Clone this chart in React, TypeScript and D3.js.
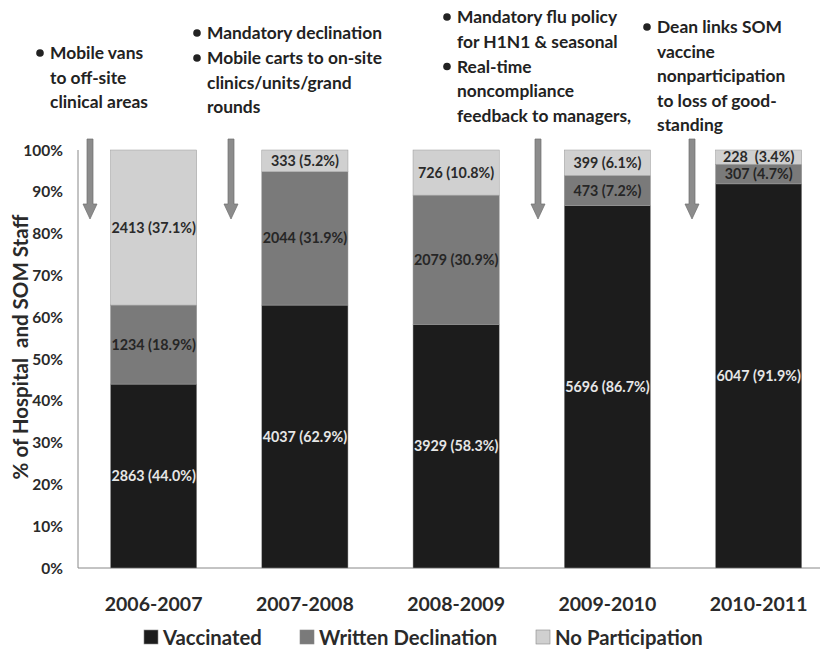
import React from "react";
import * as d3 from "d3";

const categories = ["2006-2007", "2007-2008", "2008-2009", "2009-2010", "2010-2011"];
const seriesNames = ["Vaccinated", "Written Declination", "No Participation"];
const vaccinatedPct = [44.0, 62.9, 58.3, 86.7, 91.9];
const declinationPct = [18.9, 31.9, 30.9, 7.2, 4.7];
const noPartPct = [37.1, 5.2, 10.8, 6.1, 3.4];
const vaccinatedN = [2863, 4037, 3929, 5696, 6047];
const declinationN = [1234, 2044, 2079, 473, 307];
const noPartN = [2413, 333, 726, 399, 228];
const yTicks = [0, 10, 20, 30, 40, 50, 60, 70, 80, 90, 100];

const annotations = [
  { x: 36, y: 59, lines: [["Mobile vans", "to off-site", "clinical areas"]] },
  { x: 193, y: 39, lines: [["Mandatory declination"], ["Mobile carts to on-site", "clinics/units/grand", "rounds"]] },
  { x: 443, y: 23, lines: [["Mandatory flu policy", "for H1N1 & seasonal"], ["Real-time", "noncompliance", "feedback to managers,"]] },
  { x: 643, y: 33, lines: [["Dean links SOM", "vaccine", "nonparticipation", "to loss of good-", "standing"]] },
];
const arrowXs = [90, 231, 538, 692];

const colors = ["#1c1c1c", "#7a7a7a", "#d0d0d0"];
const labelColors = ["#e6e6e6", "#262626", "#2a2a2a"];
const FONT = "Lato, 'Open Sans', sans-serif";

export default function App() {
  const W = 820, H = 650;
  const x0 = 78;
  const step = 151.25;
  const x = d3.scaleBand<string>().domain(categories).range([x0, x0 + step * categories.length]).paddingInner(0.43).paddingOuter(0.215);
  const y = d3.scaleLinear().domain([0, 100]).range([568, 150]);

  const rows = categories.map((c, i) => ({
    cat: c,
    v: vaccinatedPct[i], d: declinationPct[i], n: noPartPct[i],
  }));
  const total = (r: any) => r.v + r.d + r.n;
  const stack = d3.stack<any>().keys(["v", "d", "n"]).value((r, k) => (r[k] / total(r)) * 100)(rows);
  const counts = [vaccinatedN, declinationN, noPartN];
  const pcts = [vaccinatedPct, declinationPct, noPartPct];

  const lineH = 24.5;

  return (
    <svg width={W} height={H} style={{ position: "absolute", left: 0, top: 0, background: "#fff" }} fontFamily={FONT}>
      {/* annotations */}
      {annotations.map((a, ai) => {
        let li = 0;
        const out: any[] = [];
        a.lines.forEach((group, gi) => {
          group.forEach((t, ti) => {
            const yy = a.y + li * lineH + gi * 0.5;
            if (ti === 0) out.push(<circle key={`b${gi}`} cx={a.x + 4} cy={yy - 6} r={3.8} fill="#222" />);
            out.push(<text key={`t${gi}-${ti}`} x={a.x + 14} y={yy} fontSize={17.4} fontWeight={700} fill="#222">{t}</text>);
            li++;
          });
        });
        return <g key={ai}>{out}</g>;
      })}
      {/* arrows */}
      {arrowXs.map((ax, i) => (
        <path key={i} d={`M${ax - 3},139 L${ax + 3},139 L${ax + 3},204 L${ax + 7},204 L${ax},219 L${ax - 7},204 L${ax - 3},204 Z`} fill="#8c8c8c" stroke="#6e6e6e" strokeWidth={0.7} />
      ))}
      {/* axes */}
      <line x1={x0} x2={x0} y1={150} y2={568} stroke="#888" strokeWidth={1} />
      <line x1={x0} x2={W} y1={568} y2={568} stroke="#888" strokeWidth={1} />
      {yTicks.map((t) => (
        <text key={t} x={63} y={y(t) + 5.5} textAnchor="end" fontSize={15.5} fontWeight={700} fill="#2a2a2a">{t}%</text>
      ))}
      <text transform={`translate(28,${347}) rotate(-90)`} textAnchor="middle" fontSize={20.5} fontWeight={700} fill="#2a2a2a" style={{ whiteSpace: "pre" }}>% of Hospital  and SOM Staff</text>
      {/* bars */}
      {stack.map((s, si) => (
        <g key={si}>
          {s.map((d, i) => {
            const bx = x(categories[i])!;
            const bw = x.bandwidth();
            const top = y(d[1]), bot = y(d[0]);
            return (
              <rect key={i} x={bx} y={top} width={bw} height={bot - top} fill={colors[si]} stroke="#9a9a9a" strokeWidth={0.5} />
            );
          })}
        </g>
      ))}
      {stack.map((s, si) => (
        <g key={`l${si}`}>
          {s.map((d, i) => {
            const bx = x(categories[i])!;
            const bw = x.bandwidth();
            const mid = (y(d[0]) + y(d[1])) / 2;
            const sep = counts[si][i] === 228 ? "  " : " ";
            return (
              <text key={i} x={bx + bw / 2} y={mid + 5} textAnchor="middle" fontSize={14.3} fontWeight={700} fill={labelColors[si]} style={{ whiteSpace: "pre" }}>
                {`${counts[si][i]}${sep}(${pcts[si][i].toFixed(1)}%)`}
              </text>
            );
          })}
        </g>
      ))}
      {/* x labels */}
      {categories.map((c) => (
        <text key={c} x={x(c)! + x.bandwidth() / 2} y={611} textAnchor="middle" fontSize={19.5} fontWeight={700} fill="#2a2a2a">{c}</text>
      ))}
      {/* legend */}
      {seriesNames.map((n, i) => {
        const lx = [144, 300, 536][i];
        return (
          <g key={n}>
            <rect x={lx} y={630} width={14} height={14} fill={colors[i]} stroke="#888" strokeWidth={0.6} />
            <text x={lx + 19} y={645} fontSize={20.3} fontWeight={700} fill="#2a2a2a">{n}</text>
          </g>
        );
      })}
    </svg>
  );
}
